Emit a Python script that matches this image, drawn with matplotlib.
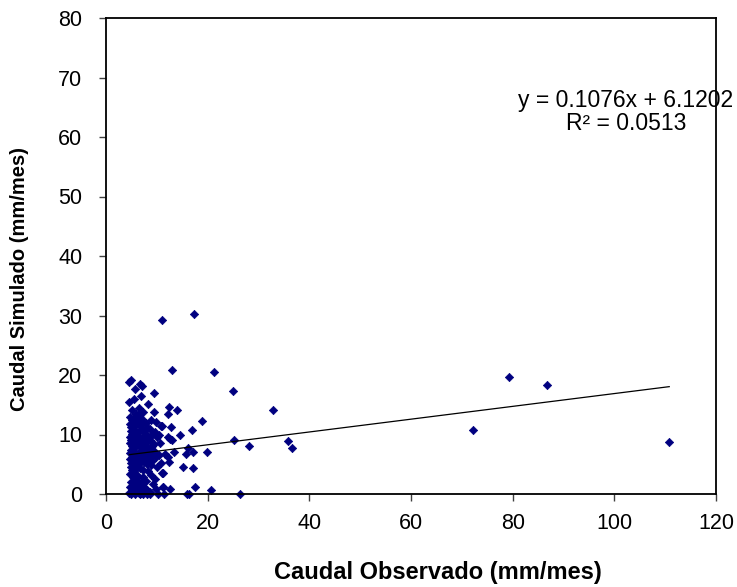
import matplotlib
matplotlib.use('Agg')

import matplotlib.pyplot as plt
import numpy as np

# caudal observado (x) y simulado (y), en mm/mes
obs = [
    # x ~ 5
    5.0, 4.6, 4.6, 5.2, 4.8, 5.1, 4.7, 5.0, 4.9, 5.2,
    4.7, 5.0, 4.8, 5.1, 4.9, 4.7, 5.2, 4.8, 5.0, 4.9,
    5.1, 4.7, 5.0, 4.8, 5.2, 4.6, 5.0,
    # x ~ 5.7
    5.7, 5.5, 5.9, 5.6, 6.0, 5.8, 5.5, 5.7, 6.0, 5.6,
    5.9, 5.5, 5.8, 5.6, 6.0, 5.7, 5.5, 5.9, 5.6, 5.8,
    5.7, 6.0, 5.5, 5.8,
    # x ~ 6.5
    6.7, 6.8, 6.5, 6.3, 6.6, 6.4, 6.8, 6.5, 6.3, 6.7,
    6.4, 6.6, 6.8, 6.3, 6.5, 6.7, 6.4, 6.6, 6.3, 6.8,
    6.5, 6.4, 6.6,
    # x ~ 7.2
    7.0, 7.0, 7.3, 7.1, 7.4, 7.2, 7.5, 7.0, 7.3, 7.1,
    7.4, 7.2, 7.5, 7.3, 7.3, 7.1, 7.4, 7.2,
    # x ~ 8
    8.2, 7.9, 8.1, 7.8, 8.3, 8.0, 7.9, 8.2, 7.8, 8.1,
    8.0, 8.3, 7.9, 8.1, 8.0,
    # x ~ 8.9
    8.9, 8.7, 9.1, 8.6, 9.0, 8.8, 9.2, 8.7, 9.0, 8.9,
    8.9, 9.2, 8.6, 8.7,
    # x ~ 9.7
    9.5, 9.4, 9.8, 9.6, 10.0, 9.5, 9.7, 9.9, 10.0, 9.6,
    9.8,
    # x ~ 10.7
    10.9, 10.4, 10.6, 10.5, 10.8, 11.0, 11.2, 10.3, 11.0,
    # x ~ 12
    12.3, 12.1, 12.8, 12.1, 12.6, 12.9, 11.6, 12.1, 12.3, 11.2,
    11.3, 12.5, 11.5, 12.9, 11.0,
    # 13 - 36
    14.0, 14.5, 13.4, 15.7, 15.1,
    17.4, 16.9, 16.1, 17.1, 17.2, 17.6, 15.9, 16.4,
    18.8, 19.9, 21.3, 20.7,
    24.9, 25.1, 28.1, 26.3,
    32.9, 35.8, 36.5,
    # caudales altos
    72.2, 79.3, 86.8, 110.8,
    # fondo del grupo
    5.4, 6.1, 6.9, 7.6, 5.3, 6.2,
]

sim = [
    19.2, 18.8, 15.4, 14.1, 13.0, 12.4, 11.8, 11.2, 10.6, 10.1,
    9.6, 9.0, 8.5, 8.0, 7.4, 6.9, 6.3, 5.8, 5.2, 4.6,
    4.0, 3.4, 2.0, 1.2, 0.6, 0.1, 0.0,

    17.6, 16.0, 13.5, 12.8, 12.0, 11.5, 10.8, 10.2, 9.4, 8.8,
    8.2, 7.7, 7.1, 6.6, 6.0, 5.5, 4.9, 4.2, 3.6, 2.4,
    1.5, 0.8, 0.3, 0.0,

    18.5, 16.4, 14.5, 13.2, 12.3, 11.7, 11.0, 10.4, 9.8, 9.1,
    8.6, 7.9, 7.3, 6.8, 6.2, 5.6, 5.0, 4.4, 3.0, 1.8,
    0.9, 0.2, 0.0,

    18.2, 12.6, 13.7, 11.8, 10.6, 9.5, 8.9, 8.3, 7.6, 7.0,
    6.4, 5.9, 5.3, 4.1, 2.8, 1.3, 0.5, 0.0,

    15.1, 12.0, 11.3, 10.1, 9.2, 8.7, 8.0, 7.2, 6.6, 6.1,
    5.0, 3.8, 2.2, 0.7, 0.0,

    12.5, 11.0, 9.9, 9.0, 8.1, 7.5, 6.9, 6.3, 5.6, 4.8,
    3.2, 1.7, 0.4, 0.0,

    17.0, 13.8, 12.1, 10.5, 9.6, 8.4, 7.0, 6.2, 4.5, 2.6,
    0.9,

    11.4, 10.0, 8.6, 6.5, 5.2, 3.6, 1.2, 0.0, 29.3,

    14.6, 13.5, 11.3, 9.6, 9.2, 9.0, 6.7, 6.3, 5.3, 3.5,
    1.2, 0.8, 0.0, 20.8, 11.5,

    14.1, 10.0, 7.0, 6.8, 4.6,
    30.2, 10.8, 7.7, 7.1, 4.3, 1.2, 0.0, 0.0,
    12.2, 7.0, 20.5, 0.7,
    17.3, 9.1, 8.1, 0.0,
    14.1, 8.9, 7.8,

    10.8, 19.7, 18.3, 8.7,

    0.4, 0.6, 0.2, 1.0, 2.9, 2.2,
]

# linea de tendencia (Excel)
pendiente = 0.1076
intercepto = 6.1202
r2 = 0.0513

x_ticks = [0, 20, 40, 60, 80, 100, 120]
y_ticks = [0, 10, 20, 30, 40, 50, 60, 70, 80]

plt.rcParams['font.family'] = ['Liberation Sans', 'DejaVu Sans']

fig = plt.figure(figsize=(7.37, 5.87), dpi=100)
ax = fig.add_axes([106 / 737, 93 / 587, 610 / 737, 476 / 587])

ax.scatter(obs, sim, marker='D', s=18, color='#000080', edgecolors='#000080',
           linewidths=0.5, zorder=2, clip_on=False)

xs = np.array([min(obs), max(obs)])
ax.plot(xs, pendiente * xs + intercepto, color='black', linewidth=0.9, zorder=3)

ax.set_xlim(0, 120)
ax.set_ylim(0, 80)
ax.set_xticks(x_ticks)
ax.set_yticks(y_ticks)
ax.tick_params(direction='out', length=5, width=1, color='#404040',
               labelsize=15.5)
ax.tick_params(axis='x', pad=9)
ax.tick_params(axis='y', pad=12)
for sp in ax.spines.values():
    sp.set_linewidth(1.3)
    sp.set_color('black')

fig.text(438 / 737, 0.024, 'Caudal Observado (mm/mes)', ha='center', va='center',
         fontsize=17, fontweight='bold')
fig.text(20 / 737, (587 - 279) / 587, 'Caudal Simulado (mm/mes)', ha='center',
         va='center', rotation=90, fontsize=14.5, fontweight='bold')

fig.text(626 / 737, (587 - 112) / 587,
         f'y = {pendiente}x + {intercepto}\nR² = {r2}',
         ha='center', va='center', fontsize=16.5, linespacing=1.02)

fig.savefig('out.png', dpi=100)
